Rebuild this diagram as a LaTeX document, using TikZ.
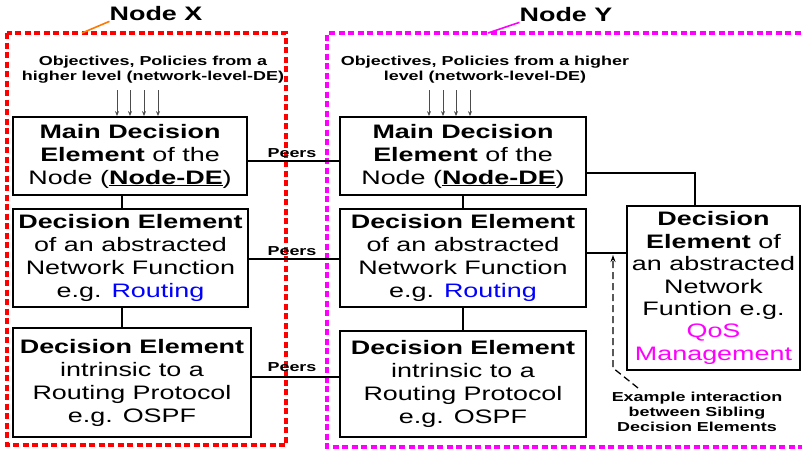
\documentclass[tikz,border=0pt]{standalone}
\usepackage{fontspec}
\setmainfont[FakeStretch=1.38]{Liberation Sans}
\usetikzlibrary{arrows.meta}
\newcommand{\bigf}{\fontsize{19.5}{23}\selectfont}
\newcommand{\smallf}{\fontsize{13}{15}\selectfont}
\definecolor{rblue}{RGB}{0,0,255}
\definecolor{rmag}{RGB}{255,0,255}
\definecolor{rred}{RGB}{255,0,0}
\definecolor{rorange}{RGB}{255,120,0}
\begin{document}
\begin{tikzpicture}[x=1pt,y=-1pt,
  debox/.style={draw=black,line width=1.8pt,inner sep=0pt,align=center,font=\bigf},
  conn/.style={draw=black,line width=1.5pt},
  smalltxt/.style={inner sep=0pt,align=center,font=\smallf\bfseries},
  objarrow/.style={draw=black!70,line width=0.7pt,-{Stealth[length=5pt,width=4pt]}},
  nodedash/.style={line width=3.2pt,dash pattern=on 6pt off 3.5pt}]
\useasboundingbox (0,0) rectangle (802,450);
% containers
\draw[nodedash,rred] (7,33) rectangle (286,445);
\draw[nodedash,rmag] (810,33) -- (327,33) -- (327,447) -- (810,447);
\node[inner sep=0pt,font=\bigf\bfseries] (lx) at (156,14) {Node X};
\node[inner sep=0pt,font=\bigf\bfseries] (ly) at (566,15) {Node Y};
\coordinate (lxa) at (82,33);
\coordinate (lya) at (488,33);
\draw[rorange,line width=1.6pt] (lxa) -- (lx.south west);
\draw[rmag,line width=1.6pt] (lya) -- (ly.south west);
% objectives
\node[smalltxt] (objX) at (153,70) {Objectives, Policies from a\\higher level (network-level-DE)};
\node[smalltxt] (objY) at (485,70) {Objectives, Policies from a higher\\level (network-level-DE)};
% boxes node X
\node[debox,minimum width=234pt,minimum height=78pt] (mainX) at (130,156)
  {\textbf{Main Decision}\\\textbf{Element} of the\\Node (\underline{\textbf{Node-DE}})};
\node[debox,minimum width=235pt,minimum height=98pt] (absX) at (130.5,258)
  {\textbf{Decision Element}\\of an abstracted\\Network Function\\e.g. \textcolor{rblue}{Routing}};
\node[debox,minimum width=238pt,minimum height=109pt] (intX) at (132,382.5)
  {\textbf{Decision Element}\\intrinsic to a\\Routing Protocol\\e.g. OSPF};
% boxes node Y
\node[debox,minimum width=246pt,minimum height=78pt] (mainY) at (463,156)
  {\textbf{Main Decision}\\\textbf{Element} of the\\Node (\underline{\textbf{Node-DE}})};
\node[debox,minimum width=246pt,minimum height=98pt] (absY) at (463,258)
  {\textbf{Decision Element}\\of an abstracted\\Network Function\\e.g. \textcolor{rblue}{Routing}};
\node[debox,minimum width=246pt,minimum height=106pt] (intY) at (463,384)
  {\textbf{Decision Element}\\intrinsic to a\\Routing Protocol\\e.g. OSPF};
\node[debox,minimum width=173pt,minimum height=164pt,font=\fontsize{19.5}{22.4}\selectfont] (qos) at (713.5,288)
  {\textbf{Decision}\\\textbf{Element} of\\an abstracted\\Network\\Funtion e.g.\\\textcolor{rmag}{QoS}\\\textcolor{rmag}{Management}};
% objective arrows
\foreach \xx [count=\i] in {117,130,144,158}{
  \coordinate (ox\i) at (\xx,90);
  \draw[objarrow] (ox\i) -- (mainX.north -| ox\i);
}
\foreach \xx [count=\i] in {429,443,456,470}{
  \coordinate (oy\i) at (\xx,90);
  \draw[objarrow] (oy\i) -- (mainY.north -| oy\i);
}
% vertical connectors
\coordinate (vx) at (122,0);
\draw[conn] (mainX.south -| vx) -- (absX.north -| vx);
\draw[conn] (absX.south -| vx) -- (intX.north -| vx);
\draw[conn] (mainY.south) -- (absY.north);
\draw[conn] (absY.south) -- (intY.north);
% peers
\coordinate (p1) at (0,161);
\coordinate (p2) at (0,259);
\coordinate (p3) at (0,377);
\draw[conn] (mainX.east |- p1) -- (mainY.west |- p1);
\draw[conn] (absX.east |- p2) -- (absY.west |- p2);
\draw[conn] (intX.east |- p3) -- (intY.west |- p3);
\node[smalltxt] (pe1) at (292,153) {Peers};
\node[smalltxt] (pe2) at (292,251) {Peers};
\node[smalltxt] (pe3) at (292,367) {Peers};
% sibling connectors
\coordinate (q1) at (695,173);
\coordinate (q2) at (0,253);
\draw[conn] (mainY.east |- q1) -| (qos.north -| q1);
\draw[conn] (absY.east |- q2) -- (qos.west |- q2);
% annotation
\node[smalltxt] (anno) at (697,412) {Example interaction\\between Sibling\\Decision Elements};
\coordinate (at1) at (638,388);
\coordinate (at2) at (613,368);
\coordinate (at3) at (613,255);
\draw[line width=1.3pt,dash pattern=on 7pt off 4pt,-{Stealth[length=7pt,width=5pt]}] (at1) -- (at2) -- (at3);
\end{tikzpicture}
\end{document}
